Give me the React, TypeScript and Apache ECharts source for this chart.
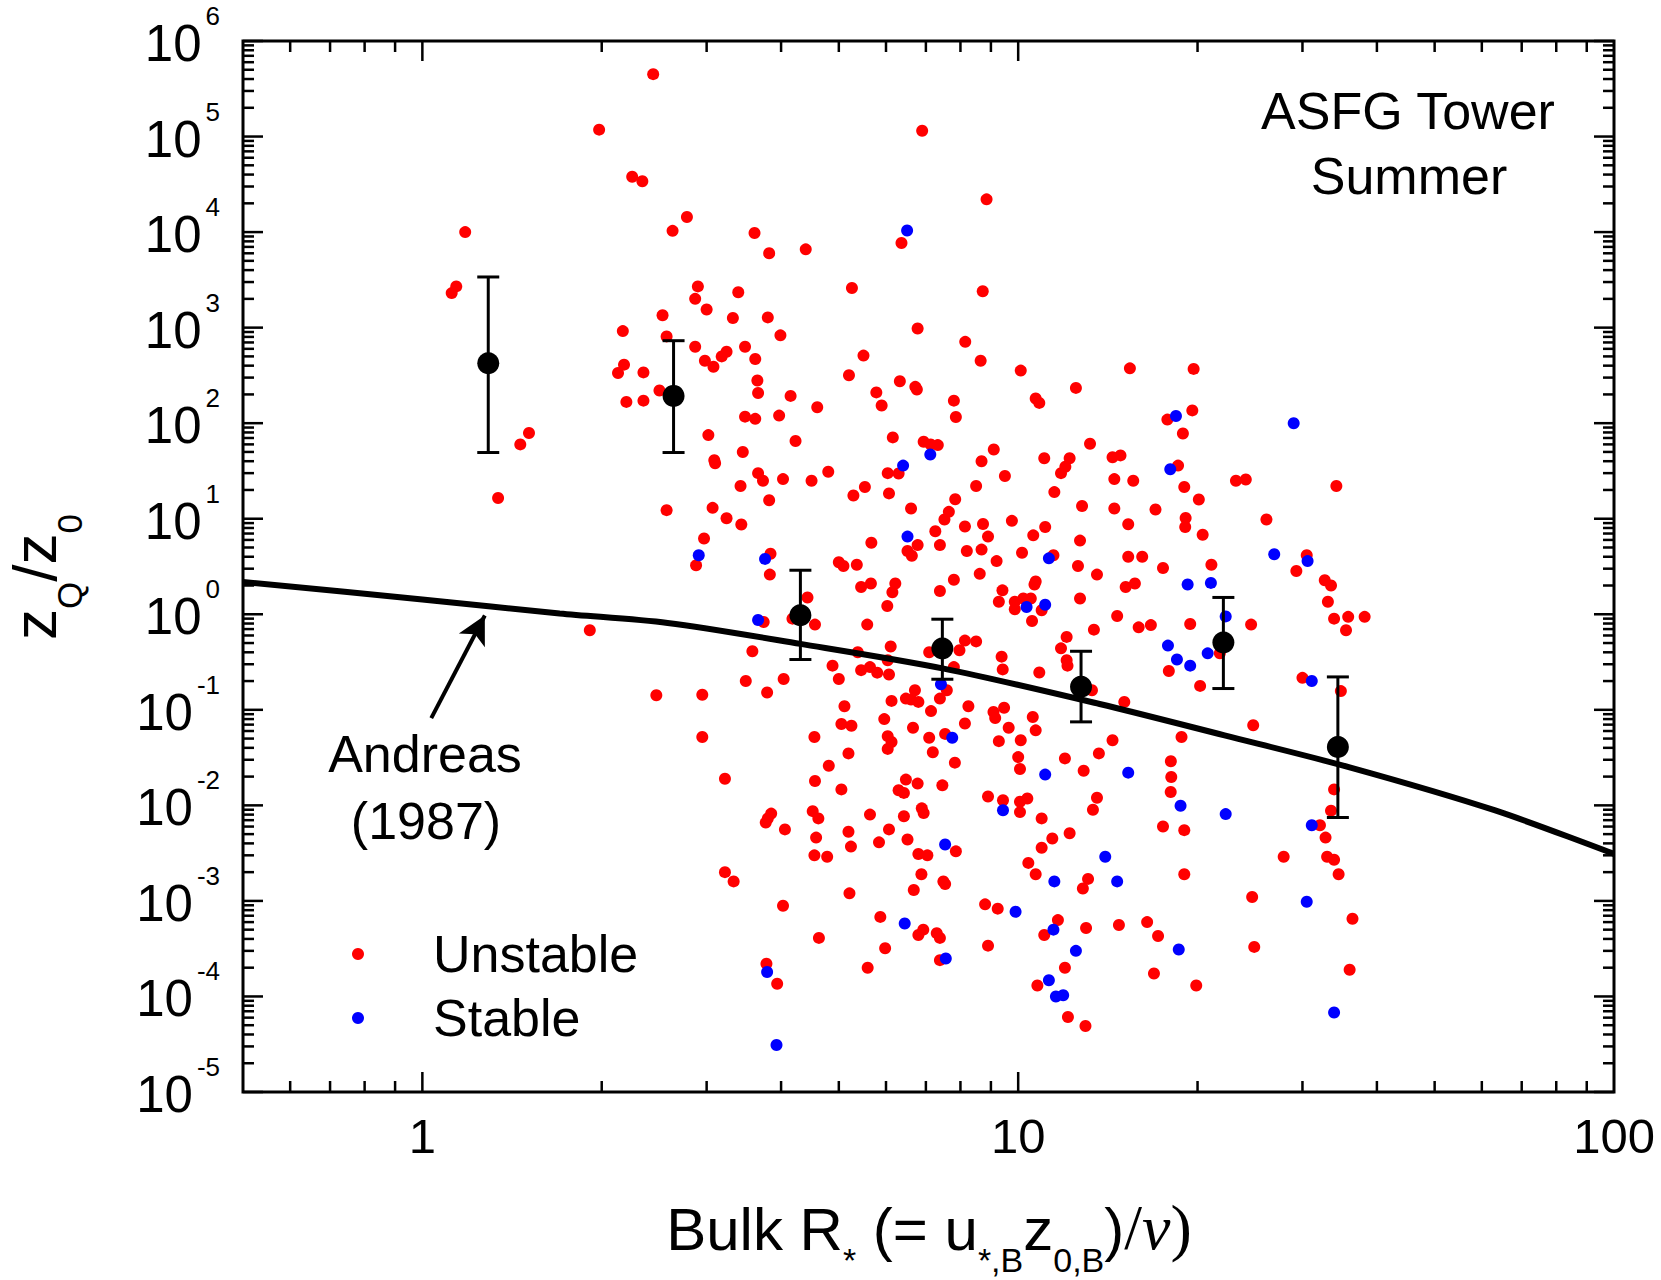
import React, { useEffect, useRef } from "react";
import * as echarts from "echarts";

const FONT = '"Liberation Sans", Arial, Helvetica, sans-serif';
const SERIF = '"Liberation Serif", "Times New Roman", serif';

// Axis ranges
const X_MIN = 0.5;
const X_MAX = 100;
const Y_MIN = 1e-5;
const Y_MAX = 1e6;

// Tick / label values
const Y_DECADES = [1e-5, 1e-4, 1e-3, 1e-2, 1e-1, 1, 10, 100, 1e3, 1e4, 1e5, 1e6];
const X_DECADES = [0.1, 1, 10, 100];
const X_LABELS = [1, 10, 100];
const MINOR_STEPS = [2, 3, 4, 5, 6, 7, 8, 9];

// Unstable stratification points [R*, zQ/z0]
const unstable: [number, number][] = [
  [1.18, 1.0e4], [1.14, 2.7e3], [1.12, 2.3e3], [1.51, 79], [1.46, 60], [1.34, 16.5],
  [2.44, 4.5e5], [1.98, 1.18e5], [6.9, 1.15e5], [2.25, 3.8e4], [2.34, 3.4e4], [8.85, 2.2e4],
  [2.78, 1.44e4], [2.63, 1.03e4], [3.61, 9.8e3], [6.37, 7.7e3], [3.82, 6.0e3], [4.4, 6.6e3],
  [5.26, 2.6e3], [8.72, 2.4e3], [2.9, 2.7e3], [2.87, 2.0e3], [3.39, 2.35e3], [2.53, 1.35e3],
  [3.0, 1.55e3], [3.32, 1.26e3], [3.8, 1.28e3], [2.17, 920], [2.57, 810], [3.99, 830],
  [6.78, 980], [2.87, 630], [3.48, 630], [3.24, 560], [3.18, 500], [2.98, 450], [3.08, 390],
  [3.62, 470], [5.5, 510], [8.15, 710], [8.65, 450], [10.1, 355], [2.18, 410], [2.13, 335],
  [2.35, 340], [2.5, 220], [2.2, 167], [2.35, 172], [3.65, 280], [3.66, 207], [4.15, 193],
  [5.2, 317], [5.78, 210], [5.9, 153], [6.33, 275], [6.72, 240], [6.76, 225], [7.8, 172],
  [7.86, 116], [10.7, 181], [10.85, 163], [12.5, 234], [4.6, 147], [3.48, 117], [3.62, 111],
  [3.97, 120], [3.02, 75], [4.23, 65], [6.16, 71], [6.94, 64], [7.13, 60], [7.33, 59], [13.2, 61],
  [15.4, 375], [19.7, 370], [19.6, 136], [17.8, 109], [18.9, 78],
  [3.45, 50], [3.09, 41], [3.1, 38], [9.1, 53], [6.04, 30], [6.3, 29.7], [8.68, 40], [11.06, 43],
  [12.2, 43], [12.0, 35], [11.8, 30], [9.5, 28], [3.66, 30], [3.73, 25], [4.03, 26], [4.5, 25],
  [4.8, 31], [3.42, 22], [5.53, 21.5], [5.29, 17.5], [6.07, 18.4], [8.5, 22], [11.5, 19],
  [3.82, 15.6], [6.61, 12.8], [7.84, 16], [7.65, 11.8], [7.52, 9.8], [12.8, 13.6], [2.57, 12.3],
  [3.07, 13], [3.24, 10.1], [3.43, 8.7], [8.14, 8.3], [8.73, 8.8], [9.76, 9.5], [11.1, 8.2],
  [10.6, 6.7], [7.26, 7.4], [8.9, 6.5], [6.78, 5.3], [6.52, 4.6], [6.63, 4.1], [7.39, 5.3],
  [5.67, 5.6], [12.7, 5.9], [2.97, 6.2], [8.2, 4.6], [8.68, 4.75], [10.15, 4.4], [9.2, 3.6],
  [11.46, 4.15], [12.6, 3.2], [13.56, 2.6], [2.88, 3.25], [3.84, 4.3], [3.83, 2.6], [5.0, 3.5],
  [5.09, 3.2], [5.36, 3.3], [8.62, 2.65], [7.8, 2.3], [7.39, 1.75], [5.45, 1.93], [5.66, 2.1],
  [6.22, 2.1], [6.15, 1.7], [6.03, 1.22], [10.7, 2.2], [10.65, 2.05], [9.41, 1.78], [9.28, 1.35],
  [9.87, 1.35], [9.87, 1.13], [10.2, 1.46], [10.5, 1.46], [10.95, 1.1], [10.55, 0.85], [12.7, 1.46],
  [13.4, 0.69], [4.43, 1.5], [1.91, 0.68], [3.74, 0.83], [4.18, 0.9], [4.56, 0.78], [5.58, 0.78],
  [3.58, 0.41], [6.11, 0.46], [5.38, 0.4], [7.09, 0.4], [8.14, 0.53], [8.5, 0.52], [7.97, 0.42],
  [9.38, 0.36], [12.06, 0.58], [11.8, 0.44], [12.06, 0.33], [12.1, 0.29], [13.3, 0.16], [4.88, 0.29],
  [5.45, 0.26], [5.64, 0.28], [5.8, 0.245], [6.07, 0.234], [6.04, 0.33], [7.8, 0.28], [9.42, 0.265],
  [10.85, 0.246], [3.49, 0.2], [4.04, 0.21], [5.0, 0.21], [3.79, 0.152], [2.47, 0.142], [2.95, 0.144],
  [6.71, 0.16], [6.61, 0.128], [6.8, 0.121], [6.48, 0.131], [7.59, 0.16], [7.39, 0.131], [6.13, 0.124],
  [5.11, 0.109], [8.25, 0.109], [7.14, 0.097], [9.09, 0.095], [9.47, 0.105], [9.15, 0.082],
  [10.58, 0.084], [10.7, 0.061], [5.96, 0.08], [8.14, 0.072], [5.05, 0.071], [5.25, 0.068],
  [6.66, 0.065], [9.64, 0.065], [2.95, 0.052], [4.55, 0.052], [6.04, 0.053], [6.13, 0.046],
  [6.04, 0.039], [7.54, 0.056], [7.09, 0.051], [9.28, 0.047], [10.1, 0.048], [7.19, 0.036],
  [5.19, 0.035], [13.66, 0.035], [11.98, 0.031], [10.0, 0.032], [10.07, 0.024], [7.83, 0.028],
  [4.81, 0.026], [12.88, 0.023], [3.22, 0.019], [4.56, 0.018], [6.48, 0.0186], [6.78, 0.0169],
  [7.46, 0.0162], [5.05, 0.0147], [6.3, 0.0144], [6.43, 0.0135], [8.9, 0.0124], [9.43, 0.0113],
  [10.07, 0.0109], [10.36, 0.0118], [10.07, 0.0085], [13.56, 0.012], [13.35, 0.009], [6.89, 0.0093],
  [6.94, 0.0083], [5.64, 0.008], [6.43, 0.0077], [10.95, 0.0073], [3.8, 0.0073], [3.85, 0.0082],
  [3.77, 0.0066], [4.52, 0.0087], [4.62, 0.0073], [4.06, 0.0056], [6.07, 0.0056], [5.19, 0.0053],
  [11.41, 0.0045], [12.2, 0.0051], [4.58, 0.0046], [6.52, 0.0044], [5.84, 0.0041], [5.24, 0.0037],
  [10.95, 0.0036], [7.86, 0.0033], [4.55, 0.003], [4.78, 0.0029], [6.8, 0.0031], [7.04, 0.003],
  [14.4, 44], [14.85, 46], [18.55, 36], [14.5, 26], [15.6, 25], [19.0, 21.5], [23.2, 25],
  [24.1, 25.7], [34.2, 22], [20.1, 15.9], [14.5, 12.8], [17.0, 12.5], [19.1, 10.2], [19.07, 8.2],
  [15.3, 8.75], [20.4, 6.8], [26.1, 9.8], [30.5, 4.15], [15.3, 4.0], [16.15, 4.0], [17.5, 3.05],
  [21.1, 3.3], [29.3, 2.84], [32.7, 2.27], [33.5, 2.0], [15.15, 1.93], [15.7, 2.1], [33.1, 1.35],
  [14.66, 0.96], [15.93, 0.73], [16.7, 0.77], [19.44, 0.79], [24.6, 0.78], [33.9, 0.9],
  [35.8, 0.94], [38.15, 0.94], [35.5, 0.68], [21.8, 0.39], [17.9, 0.255], [20.2, 0.178],
  [30.0, 0.216], [34.8, 0.157], [15.07, 0.121], [24.8, 0.069], [18.8, 0.052], [14.4, 0.048],
  [18.04, 0.029], [18.07, 0.0198], [18.03, 0.0138], [33.9, 0.0147], [33.5, 0.0088], [17.5, 0.006],
  [19.0, 0.0055], [32.1, 0.0062], [32.8, 0.0046], [27.9, 0.0029], [33.0, 0.0029], [33.9, 0.0027],
  [3.22, 0.002], [3.33, 0.0016], [6.88, 0.0019], [6.68, 0.0013], [7.49, 0.0016], [7.54, 0.0015],
  [5.21, 0.0012], [10.4, 0.0025], [10.7, 0.0019], [13.1, 0.0017], [12.84, 0.00135], [4.03, 0.00089],
  [8.8, 0.00092], [9.24, 0.00083], [5.87, 0.00068], [6.93, 0.0005], [6.8, 0.00044], [7.3, 0.00046],
  [7.39, 0.00041], [4.63, 0.00041], [5.98, 0.00032], [8.9, 0.00034], [11.66, 0.00063],
  [11.06, 0.00044], [13.0, 0.00052], [7.39, 0.00024], [5.59, 0.0002], [11.98, 0.0002],
  [3.78, 0.00022], [3.94, 0.000136], [10.77, 0.00013], [12.12, 6.1e-5], [12.97, 4.9e-5],
  [19.0, 0.0019], [34.5, 0.0019], [24.7, 0.0011], [36.4, 0.00065], [14.76, 0.00056],
  [16.46, 0.0006], [17.17, 0.00043], [24.9, 0.00033], [16.9, 0.000174], [19.9, 0.00013],
  [36.0, 0.00019],
];

// Stable stratification points [R*, zQ/z0]
const stable: [number, number][] = [
  [6.51, 1.04e4], [18.4, 119], [29.0, 100], [7.12, 47], [6.41, 36], [6.52, 6.5], [11.26, 3.85],
  [2.91, 4.15], [3.76, 3.8], [10.33, 1.19], [11.1, 1.26], [3.66, 0.87], [7.42, 0.185],
  [7.75, 0.051], [11.1, 0.021], [9.43, 0.0089], [7.54, 0.0039], [14.0, 0.0029], [18.0, 33],
  [26.9, 4.25], [30.6, 3.6], [19.25, 2.05], [21.06, 2.13], [22.3, 0.95], [17.84, 0.47],
  [18.47, 0.336], [19.44, 0.29], [20.8, 0.39], [31.1, 0.2], [15.3, 0.022], [18.73, 0.0099],
  [22.3, 0.0081], [31.1, 0.0062], [11.5, 0.0016], [9.9, 0.00077], [6.45, 0.00058],
  [11.46, 0.0005], [12.5, 0.0003], [7.56, 0.00025], [3.79, 0.00018], [11.26, 0.000148],
  [11.57, 0.0001], [11.9, 0.000103], [3.93, 3.1e-5], [14.66, 0.0016], [30.5, 0.00098],
  [18.6, 0.00031], [33.9, 6.8e-5],
];

// Bin averages with error bars
const binX = [1.29, 2.64, 4.31, 7.46, 12.75, 22.1, 34.4];
const binMean = [424, 193, 0.977, 0.438, 0.174, 0.506, 0.0408];
const binHigh = [3390, 730, 2.89, 0.888, 0.41, 1.5, 0.221];
const binLow = [49.3, 49.3, 0.336, 0.209, 0.0748, 0.167, 0.00746];

// Andreas (1987) curve
const andreasX = [0.5, 1.0, 1.7, 2.58, 4.31, 7.5, 13.7, 22.2, 36, 63, 100];
const andreasY = [2.18, 1.43, 1.02, 0.81, 0.49, 0.27, 0.115, 0.054, 0.025, 0.0089, 0.0031];

// Annotation arrow (tail, tip) in data coordinates
const arrowTail: [number, number] = [1.035, 0.082];
const arrowHead: [number, number] = [1.273, 0.97];

// Y-axis title pieces: [text, isSubscript]
const yTitleParts: [string, boolean][] = [["z", false], ["Q", true], ["/z", false], ["0", true]];

function buildTicks() {
  const ticks: number[][] = [];
  Y_DECADES.forEach((d, i) => {
    ticks.push([X_MIN, d, 0, 1], [X_MAX, d, 1, 1]);
    if (i < Y_DECADES.length - 1) {
      MINOR_STEPS.forEach((m) => {
        const v = m * d;
        ticks.push([X_MIN, v, 0, 0], [X_MAX, v, 1, 0]);
      });
    }
  });
  X_DECADES.forEach((d) => {
    if (d > X_MIN && d < X_MAX) ticks.push([d, Y_MIN, 2, 1], [d, Y_MAX, 3, 1]);
    if (d < X_MAX) {
      MINOR_STEPS.forEach((m) => {
        const v = m * d;
        if (v > X_MIN && v < X_MAX) ticks.push([v, Y_MIN, 2, 0], [v, Y_MAX, 3, 0]);
      });
    }
  });
  return ticks;
}

function buildYTitle() {
  // local frame of a group rotated by 90deg: +x reads upward, +y points right on screen
  const MAIN = 62;
  const SUB = 35;
  const ctx = document.createElement("canvas").getContext("2d");
  const widthOf = (t: string, size: number) => {
    if (!ctx) return t.length * size * 0.55;
    ctx.font = size + "px " + FONT;
    return ctx.measureText(t).width;
  };
  const total = yTitleParts.reduce((s, [t, sub]) => s + widthOf(t, sub ? SUB : MAIN), 0);
  let x = -total / 2;
  const baseline = 17;
  return yTitleParts.map(([t, sub]) => {
    const size = sub ? SUB : MAIN;
    const el = {
      type: "text",
      x,
      y: sub ? baseline + 12.5 : baseline - 22.2,
      style: {
        text: t,
        fontSize: size,
        fontFamily: FONT,
        fill: "#000",
        align: "left",
        verticalAlign: "middle",
      },
    };
    x += widthOf(t, size);
    return el;
  });
}

export default function App() {
  const ref = useRef<HTMLDivElement>(null);

  useEffect(() => {
    if (!ref.current) return;
    const chart = echarts.init(ref.current, null, { renderer: "svg" });

    const ticks = buildTicks();
    const errData = binX.map((x, i) => [x, binMean[i], binLow[i], binHigh[i]]);
    const meanData = binX.map((x, i) => [x, binMean[i]]);
    const andreasData = andreasX.map((x, i) => [x, andreasY[i]]);
    const yLabelData = Y_DECADES.map((d) => [X_MIN, d]);
    const xLabelData = X_LABELS.map((v) => [v, Y_MIN]);

    const option: any = {
      animation: false,
      backgroundColor: "#ffffff",
      grid: {
        left: 243,
        top: 41,
        width: 1371,
        height: 1051,
        show: true,
        borderColor: "#000",
        borderWidth: 3,
        backgroundColor: "transparent",
      },
      xAxis: {
        type: "log",
        logBase: 10,
        min: X_MIN,
        max: X_MAX,
        axisLine: { show: false },
        axisTick: { show: false },
        axisLabel: { show: false },
        splitLine: { show: false },
      },
      yAxis: {
        type: "log",
        logBase: 10,
        min: Y_MIN,
        max: Y_MAX,
        axisLine: { show: false },
        axisTick: { show: false },
        axisLabel: { show: false },
        splitLine: { show: false },
      },
      legend: {
        orient: "vertical",
        left: 347,
        top: 921,
        itemWidth: 12,
        itemHeight: 12,
        itemGap: 8,
        icon: "circle",
        selectedMode: false,
        data: ["Unstable", "Stable"],
        textStyle: {
          fontSize: 52,
          fontFamily: FONT,
          color: "#000",
          lineHeight: 56,
          padding: [0, 0, 0, 64],
        },
      },
      series: [
        {
          name: "Unstable",
          type: "scatter",
          data: unstable,
          symbol: "circle",
          symbolSize: 12,
          itemStyle: { color: "#ff0000", opacity: 1 },
          z: 2,
        },
        {
          name: "Stable",
          type: "scatter",
          data: stable,
          symbol: "circle",
          symbolSize: 12,
          itemStyle: { color: "#0000ff", opacity: 1 },
          z: 3,
        },
        {
          name: "Andreas (1987)",
          type: "line",
          data: andreasData,
          smooth: 0.3,
          showSymbol: false,
          symbol: "none",
          lineStyle: { color: "#000", width: 6 },
          z: 4,
          markLine: {
            silent: true,
            symbol: ["none", "arrow"],
            symbolSize: [22, 28],
            label: { show: false },
            lineStyle: { color: "#000", width: 4, type: "solid", opacity: 1 },
            itemStyle: { color: "#000" },
            data: [[{ coord: arrowTail }, { coord: arrowHead }]],
          },
        },
        {
          name: "errorbars",
          type: "custom",
          data: errData,
          encode: { x: 0, y: 1 },
          clip: false,
          z: 5,
          renderItem: (params: any, api: any) => {
            const x = api.value(0);
            const lo = api.coord([x, api.value(2)]);
            const hi = api.coord([x, api.value(3)]);
            const cap = 11;
            const st = { stroke: "#000", lineWidth: 3 };
            return {
              type: "group",
              children: [
                { type: "line", shape: { x1: hi[0], y1: hi[1], x2: lo[0], y2: lo[1] }, style: st },
                { type: "line", shape: { x1: hi[0] - cap, y1: hi[1], x2: hi[0] + cap, y2: hi[1] }, style: st },
                { type: "line", shape: { x1: lo[0] - cap, y1: lo[1], x2: lo[0] + cap, y2: lo[1] }, style: st },
              ],
            };
          },
        },
        {
          name: "Bin average",
          type: "scatter",
          data: meanData,
          symbol: "circle",
          symbolSize: 22,
          itemStyle: { color: "#000", opacity: 1 },
          z: 6,
        },
        {
          name: "ticks",
          type: "custom",
          data: ticks,
          encode: { x: 0, y: 1 },
          clip: false,
          silent: true,
          z: 7,
          renderItem: (params: any, api: any) => {
            const side = api.value(2);
            const major = api.value(3) === 1;
            const p = api.coord([api.value(0), api.value(1)]);
            const len = major ? 20 : 11;
            let x2 = p[0];
            let y2 = p[1];
            if (side === 0) x2 += len;
            else if (side === 1) x2 -= len;
            else if (side === 2) y2 -= len;
            else y2 += len;
            return {
              type: "line",
              shape: { x1: p[0], y1: p[1], x2, y2 },
              style: { stroke: "#000", lineWidth: 2.5 },
            };
          },
        },
        {
          name: "yLabels",
          type: "custom",
          data: yLabelData,
          encode: { x: 0, y: 1 },
          clip: false,
          silent: true,
          z: 7,
          renderItem: (params: any, api: any) => {
            const v = api.value(1);
            const p = api.coord([api.value(0), v]);
            const e = Math.round(Math.log10(v));
            return {
              type: "text",
              x: p[0] - 23,
              y: p[1] - 5,
              style: {
                text: "{b|10}{s|" + e + "}",
                align: "right",
                verticalAlign: "middle",
                fill: "#000",
                rich: {
                  b: { fontSize: 51, fontFamily: FONT, lineHeight: 66, verticalAlign: "bottom", fill: "#000" },
                  s: { fontSize: 26, fontFamily: FONT, lineHeight: 26, verticalAlign: "top", padding: [0, 0, 0, 4], fill: "#000" },
                },
              },
            };
          },
        },
        {
          name: "xLabels",
          type: "custom",
          data: xLabelData,
          encode: { x: 0, y: 1 },
          clip: false,
          silent: true,
          z: 7,
          renderItem: (params: any, api: any) => {
            const v = api.value(0);
            const p = api.coord([v, api.value(1)]);
            return {
              type: "text",
              x: p[0],
              y: p[1] + 44,
              style: {
                text: String(v),
                align: "center",
                verticalAlign: "middle",
                fill: "#000",
                fontSize: 49,
                fontFamily: FONT,
              },
            };
          },
        },
      ],
      graphic: [
        {
          type: "text",
          x: 929,
          y: 1247,
          silent: true,
          style: {
            text: "{m|Bulk R}{s|*}{m| (= u}{s|*,B}{m|z}{s|0,B}{m|)}{g|/}{v|ν}{g|)}",
            align: "center",
            verticalAlign: "middle",
            fill: "#000",
            rich: {
              m: { fontSize: 60, fontFamily: FONT, lineHeight: 60, padding: [0, 0, 18, 0], verticalAlign: "bottom", fill: "#000", color: "#000" },
              s: { fontSize: 34, fontFamily: FONT, lineHeight: 34, verticalAlign: "bottom", fill: "#000", color: "#000" },
              g: { fontSize: 64, fontFamily: SERIF, lineHeight: 60, padding: [0, 0, 18, 0], verticalAlign: "bottom", fill: "#000", color: "#000" },
              v: { fontSize: 64, fontFamily: SERIF, fontStyle: "italic", lineHeight: 60, padding: [0, 0, 18, 0], verticalAlign: "bottom", fill: "#000", color: "#000" },
            },
          },
        },
        {
          type: "group",
          x: 40,
          y: 577,
          rotation: Math.PI / 2,
          silent: true,
          children: buildYTitle(),
        },
        {
          type: "text",
          x: 1408,
          y: 111,
          silent: true,
          style: { text: "ASFG Tower", align: "center", verticalAlign: "middle", fill: "#000", fontSize: 52, fontFamily: FONT },
        },
        {
          type: "text",
          x: 1409,
          y: 176,
          silent: true,
          style: { text: "Summer", align: "center", verticalAlign: "middle", fill: "#000", fontSize: 52, fontFamily: FONT },
        },
        {
          type: "text",
          x: 425,
          y: 754,
          silent: true,
          style: { text: "Andreas", align: "center", verticalAlign: "middle", fill: "#000", fontSize: 52, fontFamily: FONT },
        },
        {
          type: "text",
          x: 426,
          y: 821,
          silent: true,
          style: { text: "(1987)", align: "center", verticalAlign: "middle", fill: "#000", fontSize: 52, fontFamily: FONT },
        },
      ],
    };

    chart.setOption(option);
    return () => {
      chart.dispose();
    };
  }, []);

  return (
    <div
      ref={ref}
      style={{ position: "absolute", left: 0, top: 0, width: 1661, height: 1280, background: "#fff" }}
    />
  );
}
